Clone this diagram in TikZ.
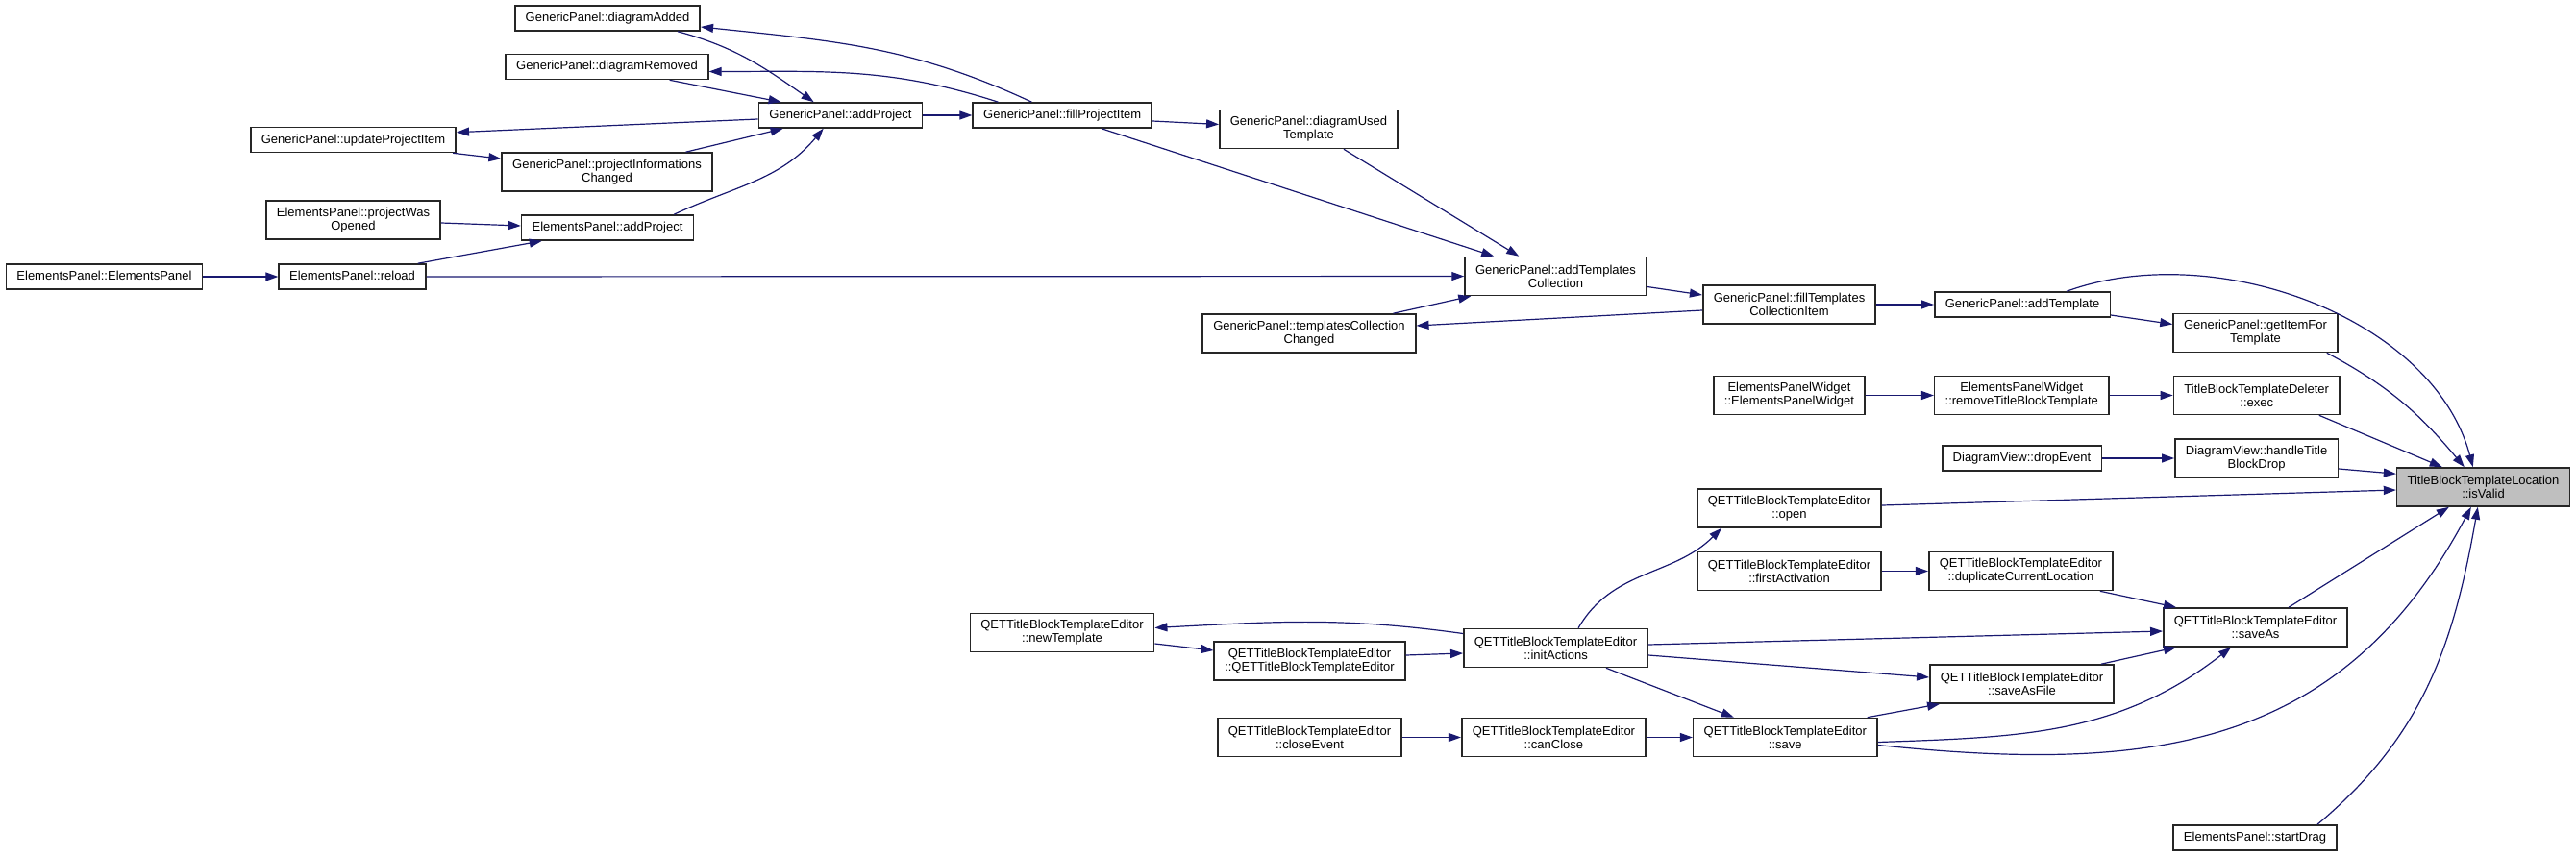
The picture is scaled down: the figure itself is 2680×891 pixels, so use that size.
\documentclass[tikz,border=0pt]{standalone}
\usepackage{fontspec}
\setmainfont{Liberation Sans}
\usetikzlibrary{arrows.meta,positioning}
\definecolor{edgeblue}{HTML}{191970}
\definecolor{focusgray}{HTML}{BFBFBF}

\begin{document}
\begin{tikzpicture}[x=1pt, y=-1pt,
  fn/.style={rectangle, draw=black!85, line width=1.6pt, fill=white, inner xsep=11pt, inner ysep=0pt,
    font=\fontsize{13pt}{14pt}\selectfont},
  box/.style={fn, minimum height=26pt, text height=9.5pt, text depth=2.5pt},
  tallbox/.style={fn, minimum height=40pt, align=center},
  focus/.style={tallbox, fill=focusgray},
  arrow/.style={-{Triangle[length=13pt,width=9pt]}, draw=edgeblue, line width=1.2pt}
]
  \useasboundingbox (0,0) rectangle (2680,891);

  \node[box] (diagAdded) at (632,19) {GenericPanel::diagramAdded};
  \node[box] (diagRemoved) at (631.5,69.5) {GenericPanel::diagramRemoved};
  \node[box] (updateItem) at (367.5,145.5) {GenericPanel::updateProjectItem};
  \node[box] (addProject) at (874.5,120) {GenericPanel::addProject};
  \node[box, right=51pt of addProject] (fillProject) {GenericPanel::fillProjectItem};
  \node[tallbox] (usedTemplate) at (1361.5,134.5) {GenericPanel::diagramUsed\\Template};
  \node[tallbox] (infoChanged) at (631.5,179) {GenericPanel::projectInformations\\Changed};
  \node[tallbox] (wasOpened) at (367.5,229) {ElementsPanel::projectWas\\Opened};
  \node[box] (elemAddProject) at (632,237) {ElementsPanel::addProject};
  \node[box] (elemCtor) at (108.5,288) {ElementsPanel::ElementsPanel};
  \node[box, right=78pt of elemCtor] (reload) {ElementsPanel::reload};
  \node[tallbox] (addCollection) at (1618.5,287.5) {GenericPanel::addTemplates\\Collection};
  \node[tallbox] (collChanged) at (1362,347) {GenericPanel::templatesCollection\\Changed};
  \node[tallbox] (fillCollection) at (1861.5,317) {GenericPanel::fillTemplates\\CollectionItem};
  \node[box, right=60pt of fillCollection] (addTemplate) {GenericPanel::addTemplate};
  \node[tallbox] (itemFor) at (2346.5,346.5) {GenericPanel::getItemFor\\Template};
  \node[tallbox] (widgetCtor) at (1861.5,411.5) {ElementsPanelWidget\\::ElementsPanelWidget};
  \node[tallbox, right=71pt of widgetCtor] (removeTpl) {ElementsPanelWidget\\::removeTitleBlockTemplate};
  \node[tallbox, right=66pt of removeTpl] (deleterExec) {TitleBlockTemplateDeleter\\::exec};
  \node[box] (dropEvent) at (2103.5,477) {DiagramView::dropEvent};
  \node[tallbox, right=75pt of dropEvent] (handleDrop) {DiagramView::handleTitle\\BlockDrop};
  \node[focus] (isValid) at (2583.5,507) {TitleBlockTemplateLocation\\::isValid};
  \node[tallbox] (open) at (1861.5,529) {QETTitleBlockTemplateEditor\\::open};
  \node[tallbox] (firstAct) at (1861.5,594.5) {QETTitleBlockTemplateEditor\\::firstActivation};
  \node[tallbox, right=48pt of firstAct] (duplicate) {QETTitleBlockTemplateEditor\\::duplicateCurrentLocation};
  \node[tallbox] (saveAs) at (2346.5,653) {QETTitleBlockTemplateEditor\\::saveAs};
  \node[tallbox] (newTpl) at (1105,658.5) {QETTitleBlockTemplateEditor\\::newTemplate};
  \node[tallbox] (editorCtor) at (1362.5,688) {QETTitleBlockTemplateEditor\\::QETTitleBlockTemplateEditor};
  \node[tallbox] (initActions) at (1618.5,674.5) {QETTitleBlockTemplateEditor\\::initActions};
  \node[tallbox] (saveAsFile) at (2103.5,712) {QETTitleBlockTemplateEditor\\::saveAsFile};
  \node[tallbox] (closeEvent) at (1362.5,767.5) {QETTitleBlockTemplateEditor\\::closeEvent};
  \node[tallbox, right=61pt of closeEvent] (canClose) {QETTitleBlockTemplateEditor\\::canClose};
  \node[tallbox, right=48pt of canClose] (save) {QETTitleBlockTemplateEditor\\::save};
  \node[box] (startDrag) at (2346,872) {ElementsPanel::startDrag};

  \draw[arrow] (elemCtor) -- (reload);
  \draw[arrow] ([xshift=-9pt]reload.north east) -- ([xshift=22pt]elemAddProject.south west);
  \draw[arrow] (reload) -- (addCollection);
  \draw[arrow] ([yshift=-3pt]wasOpened.east) -- ([yshift=2pt]elemAddProject.west);
  \draw[arrow] ([xshift=-21pt]elemAddProject.north east) to[out=25,in=-130] ([xshift=68pt]addProject.south west);
  \draw[arrow] ([xshift=-28pt]infoChanged.north east) -- ([xshift=26pt]addProject.south west);
  \draw[arrow] ([xshift=-4pt]updateItem.south east) -- ([yshift=-7pt]infoChanged.north west);
  \draw[arrow] ([yshift=-4pt]addProject.west) -- ([yshift=-6pt]updateItem.north east);
  \draw[arrow] ([xshift=-41pt]diagRemoved.south east) -- ([xshift=24pt]addProject.north west);
  \draw[arrow] ([xshift=-24pt]diagAdded.south east) to[out=-15,in=145] ([xshift=58pt]addProject.north west);
  \draw[arrow] (addProject) -- (fillProject);
  \draw[arrow] ([xshift=62pt]fillProject.north west) to[out=155,in=-6] ([yshift=-9pt]diagAdded.east);
  \draw[arrow] ([xshift=27pt]fillProject.north west) to[out=162,in=0] ([yshift=-5pt]diagRemoved.east);
  \draw[arrow] ([yshift=-6pt]fillProject.east) -- ([yshift=5pt]usedTemplate.west);
  \draw[arrow] ([xshift=-53pt]fillProject.south east) -- ([xshift=31pt]addCollection.north west);
  \draw[arrow] ([xshift=-57pt]usedTemplate.south east) -- ([xshift=57pt]addCollection.north west);
  \draw[arrow] ([xshift=-24pt]collChanged.north east) -- ([xshift=7pt]addCollection.south west);
  \draw[arrow] ([yshift=-11pt]addCollection.east) -- ([yshift=10pt]fillCollection.west);
  \draw[arrow] ([yshift=-6pt]fillCollection.west) -- ([yshift=8pt]collChanged.east);
  \draw[arrow] (fillCollection) -- (addTemplate);
  \draw[arrow] ([yshift=-11pt]addTemplate.east) -- ([yshift=9pt]itemFor.west);
  \draw[arrow] ([xshift=-46pt]addTemplate.north east) to[out=20,in=105,looseness=0.9] ([xshift=80pt]isValid.north west);
  \draw[arrow] ([xshift=-12pt]itemFor.south east) to[out=-28,in=130] ([xshift=71pt]isValid.north west);
  \draw[arrow] (widgetCtor) -- (removeTpl);
  \draw[arrow] (removeTpl) -- (deleterExec);
  \draw[arrow] ([xshift=-22pt]deleterExec.south east) -- ([xshift=48pt]isValid.north west);
  \draw[arrow] (dropEvent) -- (handleDrop);
  \draw[arrow] ([yshift=-11pt]handleDrop.east) -- ([yshift=-7pt]isValid.north west);
  \draw[arrow] ([yshift=3pt]open.east) -- ([yshift=-3pt]isValid.west);
  \draw[arrow] ([xshift=120pt]initActions.north west) to[out=60,in=-135] ([xshift=26pt]open.south west);
  \draw[arrow] (firstAct) -- (duplicate);
  \draw[arrow] ([xshift=-14pt]duplicate.south east) -- ([xshift=14pt]saveAs.north west);
  \draw[arrow] ([xshift=131pt]saveAs.north west) -- ([xshift=55pt]isValid.south west);
  \draw[arrow] ([yshift=15pt]initActions.west) to[out=172,in=3] ([yshift=5pt]newTpl.east);
  \draw[arrow] ([yshift=-11.5pt]newTpl.east) -- ([yshift=11pt]editorCtor.west);
  \draw[arrow] ([yshift=6pt]editorCtor.east) -- ([yshift=-5.5pt]initActions.west);
  \draw[arrow] ([yshift=3.5pt]initActions.east) -- ([yshift=-4pt]saveAs.west);
  \draw[arrow] ([yshift=-7.5pt]initActions.east) -- ([yshift=7pt]saveAsFile.west);
  \draw[arrow] ([xshift=-44pt]initActions.south east) -- ([xshift=43pt]save.north west);
  \draw[arrow] ([xshift=-14pt]saveAsFile.north east) -- ([xshift=14pt]saveAs.south west);
  \draw[arrow] ([xshift=-11pt]save.north east) -- ([xshift=11pt]saveAsFile.south west);
  \draw[arrow] ([yshift=-5pt]save.east) to[out=2,in=-142] ([xshift=71pt]saveAs.south west);
  \draw[arrow] ([yshift=-8pt]save.east) to[out=-6,in=-118,looseness=1.1] ([xshift=78pt]isValid.south west);
  \draw[arrow] (closeEvent) -- (canClose);
  \draw[arrow] (canClose) -- (save);
  \draw[arrow] ([xshift=-21pt]startDrag.north east) to[out=40,in=-100] ([xshift=85pt]isValid.south west);
\end{tikzpicture}
\end{document}
